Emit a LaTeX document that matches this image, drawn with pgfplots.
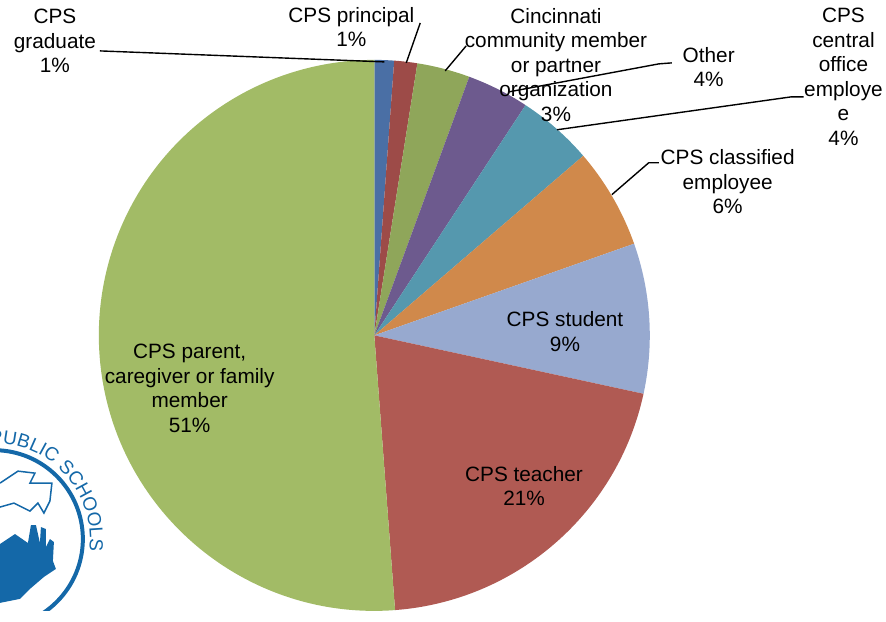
\documentclass[border=0pt]{standalone}
\usepackage{pgfplots}
\pgfplotsset{compat=1.18}
\usepackage{pgfplotstable}
\usepackage{fontspec}
\setmainfont{Liberation Sans}
\usetikzlibrary{decorations.text}
\definecolor{cA}{HTML}{4A6FA5}
\definecolor{cB}{HTML}{9D4B48}
\definecolor{cC}{HTML}{8FA65A}
\definecolor{cD}{HTML}{6D5A8E}
\definecolor{cE}{HTML}{5598AE}
\definecolor{cF}{HTML}{D0894B}
\definecolor{cG}{HTML}{97A9CF}
\definecolor{cH}{HTML}{B05A53}
\definecolor{cI}{HTML}{A2BB66}
\definecolor{logoblue}{HTML}{1468A8}
\pgfplotstableread{
group value color
graduate 1.15 cA
principal 1.35 cB
community 3.10 cC
other 3.65 cD
central 4.45 cE
classified 5.90 cF
student 8.80 cG
teacher 20.40 cH
parent 51.20 cI
}\piedata
\newcommand{\lbl}{\fontsize{20.8bp}{24.5bp}\selectfont}
\begin{document}
\begin{tikzpicture}
\begin{axis}[hide axis, scale only axis, width=886bp, height=612bp,
  xmin=0, xmax=886, ymin=0, ymax=612, clip=false]
\pgfplotsextra{
  \path (axis cs:0,0) rectangle (axis cs:886,612);
  \gdef\cum{0}
  \foreach \i in {0,...,8}{
    \pgfplotstablegetelem{\i}{value}\of{\piedata}
    \let\val\pgfplotsretval
    \pgfplotstablegetelem{\i}{color}\of{\piedata}
    \let\col\pgfplotsretval
    \pgfmathsetmacro{\sa}{90-3.6*\cum}
    \pgfmathsetmacro{\ea}{90-3.6*(\cum+\val)}
    \fill[fill=\col] (axis cs:375,276) -- ++(\sa:276bp) arc[start angle=\sa, end angle=\ea, radius=276bp] -- cycle;
    \pgfmathsetmacro{\newcum}{\cum+\val}
    \xdef\cum{\newcum}
  }
  % logo
  \begin{scope}
    \clip (axis cs:0,0) rectangle (axis cs:886,612);
    \draw[logoblue, line width=4bp] (axis cs:-6,72) circle[radius=89bp];
    \path[decorate, decoration={text along path, text align=right,
      text={|\fontsize{19bp}{19bp}\selectfont\color{logoblue}|PUBLIC{ }SCHOOLS}}]
      (axis cs:-6,72) ++(150:96bp) arc[start angle=150, end angle=-7, radius=96bp];
    \fill[logoblue] (axis cs:0,67) -- (axis cs:15,77) -- (axis cs:28,68) -- (axis cs:31,86) -- (axis cs:36,86)
      -- (axis cs:40,68) -- (axis cs:41,84) -- (axis cs:46,82) -- (axis cs:46,64) -- (axis cs:50,72)
      -- (axis cs:54,69) -- (axis cs:53,50) -- (axis cs:56,42) -- (axis cs:44,34) -- (axis cs:30,22)
      -- (axis cs:20,12) -- (axis cs:0,8) -- cycle;
    \draw[logoblue, line width=1.5bp] (axis cs:0,128) -- (axis cs:18,140) -- (axis cs:35,138) -- (axis cs:30,128)
      -- (axis cs:52,128) -- (axis cs:50,110) -- (axis cs:44,98) -- (axis cs:38,108) -- (axis cs:30,100) -- (axis cs:14,108) -- (axis cs:0,104);
  \end{scope}
}
% leader lines
\addplot[black, line width=1.4bp, mark=none] coordinates {(100,561) (385,550)};
\addplot[black, line width=1.4bp, mark=none] coordinates {(421,589) (407,549)};
\addplot[black, line width=1.4bp, mark=none] coordinates {(467,566) (446,541)};
\addplot[black, line width=1.4bp, mark=none] coordinates {(673,549) (660,548) (510,520)};
\addplot[black, line width=1.4bp, mark=none] coordinates {(805,515) (793,515) (558,482)};
\addplot[black, line width=1.4bp, mark=none] coordinates {(660,449) (650,449) (613,417)};
% labels
\node[align=center, font=\lbl] at (axis cs:55,571) {CPS\\graduate\\1\%};
\node[align=center, font=\lbl] at (axis cs:352,585) {CPS principal\\1\%};
\node[align=center, font=\lbl] at (axis cs:557,547) {Cincinnati\\community member\\or partner\\organization\\3\%};
\node[align=center, font=\lbl] at (axis cs:710,545) {Other\\4\%};
\node[align=center, font=\lbl] at (axis cs:845,535) {CPS\\central\\office\\employe\\e\\4\%};
\node[align=center, font=\lbl] at (axis cs:729,430) {CPS classified\\employee\\6\%};
\node[align=center, font=\lbl] at (axis cs:566,280) {CPS student\\9\%};
\node[align=center, font=\lbl] at (axis cs:525,125) {CPS teacher\\21\%};
\node[align=center, font=\lbl] at (axis cs:190,223) {CPS parent,\\caregiver or family\\member\\51\%};
\end{axis}
\end{tikzpicture}
\end{document}
